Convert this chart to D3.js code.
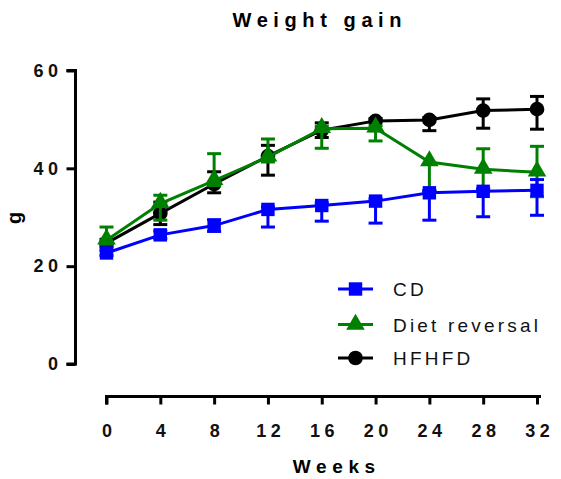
<!DOCTYPE html>
<html>
<head>
<meta charset="utf-8">
<script src="https://cdn.jsdelivr.net/npm/d3@7"></script>
<style>
  body { margin: 0; background: white; }
  text { font-family: "Liberation Sans", Arial, sans-serif; }
</style>
</head>
<body>
<script>
// data
const weeks = [0, 4, 8, 12, 16, 20, 24, 28, 32]
const xTicks = [0, 4, 8, 12, 16, 20, 24, 28, 32]
const yTicks = [0, 20, 40, 60]
const seriesNames = ["HFHFD", "Diet reversal", "CD"] // drawing order (CD on top)

const hfhfd = [24.7, 30.8, 36.8, 42.5, 47.8, 49.7, 49.9, 51.8, 52.1]
const hfhfdErrHi = [0.8, 2.3, 2.5, 2.2, 1.5, 0.5, 0.5, 2.4, 2.6]
const hfhfdErrLo = [0.8, 2.3, 1.8, 3.9, 1.5, 2.0, 2.2, 3.6, 4.1]

const diet = [25.3, 32.8, 37.5, 42.3, 48.1, 48.2, 41.3, 39.8, 39.2]
const dietErrHi = [2.7, 1.7, 5.5, 3.7, 0.5, 0.5, 0, 4.2, 5.3]
const dietErrLo = [0.8, 3.4, 1.0, 1.0, 4.0, 2.6, 6.0, 4.5, 5.0]

const cd = [22.7, 26.4, 28.3, 31.6, 32.4, 33.3, 35.0, 35.3, 35.5]
const cdErrHi = [0.5, 0.8, 1.2, 0.5, 0.5, 0.5, 0.5, 0.5, 2.2]
const cdErrLo = [0.5, 0.8, 1.2, 3.6, 3.2, 4.5, 5.6, 5.2, 5.1]

const colors = { "CD": "#0000ff", "Diet reversal": "#008000", "HFHFD": "#000000" }
const shapes = { "CD": d3.symbolSquare, "Diet reversal": d3.symbolTriangle, "HFHFD": d3.symbolCircle }
const shapeSize = { "CD": 180, "Diet reversal": 150, "HFHFD": 170 }

const series = {
    "HFHFD": { y: hfhfd, hi: hfhfdErrHi, lo: hfhfdErrLo },
    "Diet reversal": { y: diet, hi: dietErrHi, lo: dietErrLo },
    "CD": { y: cd, hi: cdErrHi, lo: cdErrLo }
}

const width = 561
const height = 479
const tickLs = 4.5 // letter spacing of tick labels

const svg = d3.select("body").append("svg")
    .attr("width", width)
    .attr("height", height)

const xScale = d3.scaleLinear().domain([0, 32]).range([106.5, 537])
const yScale = d3.scaleLinear().domain([0, 60]).range([364, 70.5])

// y axis
const yAxis = d3.axisLeft(yScale).tickValues(yTicks).tickSize(9).tickPadding(8.5)
svg.append("g")
    .attr("transform", "translate(75.5,0)")
    .call(yAxis)
    .call(g => g.select(".domain").attr("stroke-width", 3).attr("d", `M-9,${yScale(60)}H0V${yScale(0)}H-9`))
    .call(g => g.selectAll(".tick line").attr("stroke-width", 3))
    .call(g => g.selectAll(".tick text")
        .attr("font-size", 18).attr("font-weight", "bold")
        .attr("letter-spacing", tickLs).attr("dx", tickLs).attr("fill", "#111"))

// x axis
const xAxis = d3.axisBottom(xScale).tickValues(xTicks).tickSize(8).tickPadding(19.5)
svg.append("g")
    .attr("transform", "translate(0,396.5)")
    .call(xAxis)
    .call(g => g.select(".domain").attr("stroke-width", 3).attr("d", `M${xScale(0)},8V0H541`))
    .call(g => g.selectAll(".tick line").attr("stroke-width", 3))
    .call(g => g.selectAll(".tick text")
        .attr("font-size", 18).attr("font-weight", "bold")
        .attr("letter-spacing", tickLs).attr("dx", tickLs / 2).attr("fill", "#111"))

// titles
svg.append("text")
    .attr("x", 317).attr("y", 27)
    .attr("dx", 2.8)
    .attr("text-anchor", "middle")
    .attr("font-size", 20).attr("font-weight", "bold")
    .attr("letter-spacing", 5.6)
    .text("Weight gain")

svg.append("text")
    .attr("x", 334).attr("y", 473)
    .attr("dx", 2.8)
    .attr("text-anchor", "middle")
    .attr("font-size", 19).attr("font-weight", "bold")
    .attr("letter-spacing", 5.6)
    .text("Weeks")

svg.append("text")
    .attr("transform", "translate(21,218) rotate(-90)")
    .attr("text-anchor", "middle")
    .attr("font-size", 20).attr("font-weight", "bold")
    .text("g")

// series
const line = d3.line().x((d, i) => xScale(weeks[i])).y(d => yScale(d))

seriesNames.forEach(name => {
    const s = series[name]
    const c = colors[name]
    const g = svg.append("g")

    // error bars
    weeks.forEach((w, i) => {
        const x = xScale(w)
        const yHi = yScale(s.y[i] + s.hi[i])
        const yLo = yScale(s.y[i] - s.lo[i])
        g.append("line")
            .attr("x1", x).attr("x2", x)
            .attr("y1", yHi).attr("y2", yLo)
            .attr("stroke", c).attr("stroke-width", 3)
        if (s.hi[i] > 0)
            g.append("line")
                .attr("x1", x - 7).attr("x2", x + 7)
                .attr("y1", yHi).attr("y2", yHi)
                .attr("stroke", c).attr("stroke-width", 3)
        g.append("line")
            .attr("x1", x - 7).attr("x2", x + 7)
            .attr("y1", yLo).attr("y2", yLo)
            .attr("stroke", c).attr("stroke-width", 3)
    })

    g.append("path")
        .attr("d", line(s.y))
        .attr("fill", "none")
        .attr("stroke", c)
        .attr("stroke-width", 3)

    g.selectAll(".pt")
        .data(s.y)
        .join("path")
        .attr("transform", (d, i) => `translate(${xScale(weeks[i])},${yScale(d) + (name === "Diet reversal" ? -1 : 0)})`)
        .attr("d", d3.symbol().type(shapes[name]).size(shapeSize[name]))
        .attr("fill", c)
})

// legend
const legendNames = ["CD", "Diet reversal", "HFHFD"]
const legendY = [289, 324.5, 358]
legendNames.forEach((name, i) => {
    const c = colors[name]
    const g = svg.append("g").attr("transform", `translate(0,${legendY[i]})`)
    g.append("line")
        .attr("x1", 338).attr("x2", 373)
        .attr("stroke", c).attr("stroke-width", 3)
    g.append("path")
        .attr("transform", "translate(355.5,0)")
        .attr("d", d3.symbol().type(shapes[name]).size(shapeSize[name]))
        .attr("fill", c)
    g.append("text")
        .attr("x", 393).attr("y", 7)
        .attr("font-size", 19)
        .attr("letter-spacing", 3.2)
        .attr("fill", "#111")
        .text(name)
})
</script>
</body>
</html>
